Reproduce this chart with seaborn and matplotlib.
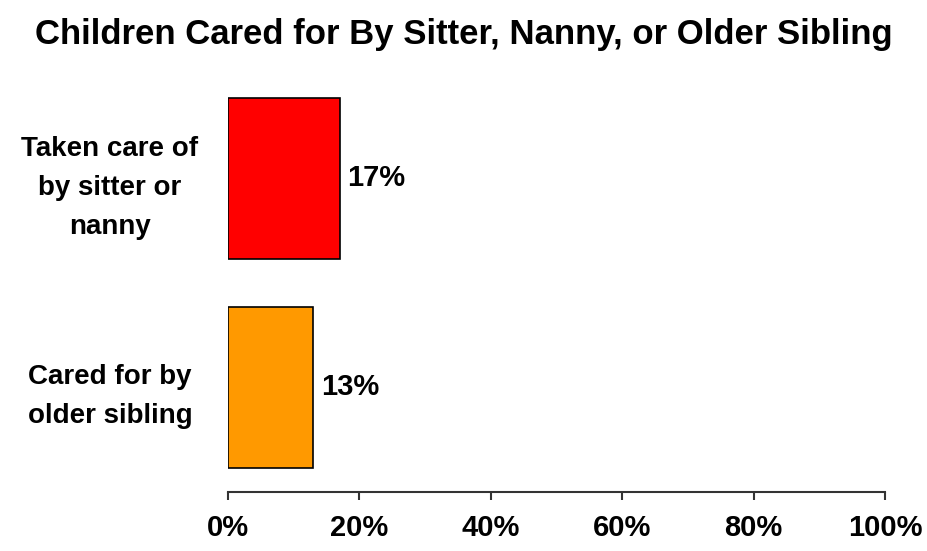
import matplotlib
matplotlib.use("Agg")
import matplotlib.pyplot as plt
import seaborn as sns
import pandas as pd

categories = ["Taken care of\nby sitter or\nnanny", "Cared for by\nolder sibling"]
values = [17, 13]
colors = ["#FF0000", "#FF9900"]
tick_values = [0, 20, 40, 60, 80, 100]
tick_labels = ["0%", "20%", "40%", "60%", "80%", "100%"]
title = "Children Cared for By Sitter, Nanny, or Older Sibling"

sns.set_theme(style="white")
plt.rcParams["font.family"] = ["Liberation Sans", "DejaVu Sans"]
plt.rcParams["text.color"] = "black"
plt.rcParams["xtick.color"] = "black"
plt.rcParams["ytick.color"] = "black"

df = pd.DataFrame({"cat": categories, "val": values})

fig = plt.figure(figsize=(9.28, 5.51), dpi=100)
ax = fig.add_axes([0.2457, 0.107, 0.708, 0.759])

sns.barplot(data=df, x="val", y="cat", hue="cat", palette=colors, legend=False,
            orient="h", width=0.77, edgecolor="black", linewidth=1.2, ax=ax, saturation=1)

ax.set_xlim(0, 100)
ax.set_ylim(1.5, -0.5)
ax.set_xticks(tick_values)
ax.set_xticklabels(tick_labels, fontsize=21, fontweight="bold", color="black")
ax.tick_params(axis="x", direction="out", length=6, width=1.5, color="#333333", pad=10, bottom=True)
ax.tick_params(axis="y", length=0, pad=85)
for lab in ax.get_yticklabels():
    lab.set_fontsize(20)
    lab.set_fontweight("bold")
    lab.set_color("black")
    lab.set_horizontalalignment("center")
    lab.set_multialignment("center")
    lab.set_linespacing(1.65)
ax.set_xlabel("")
ax.set_ylabel("")
for s in ["top", "right", "left"]:
    ax.spines[s].set_visible(False)
ax.spines["bottom"].set_linewidth(1.5)
ax.spines["bottom"].set_color("#333333")

for i, v in enumerate(values):
    ax.text(v + 1.2, i, f"{v}%", va="center", ha="left", fontsize=21, fontweight="bold", color="black")

fig.text(0.5, 0.938, title, ha="center", va="center", fontsize=25, fontweight="bold", color="black")

fig.savefig("out.png", dpi=100)
